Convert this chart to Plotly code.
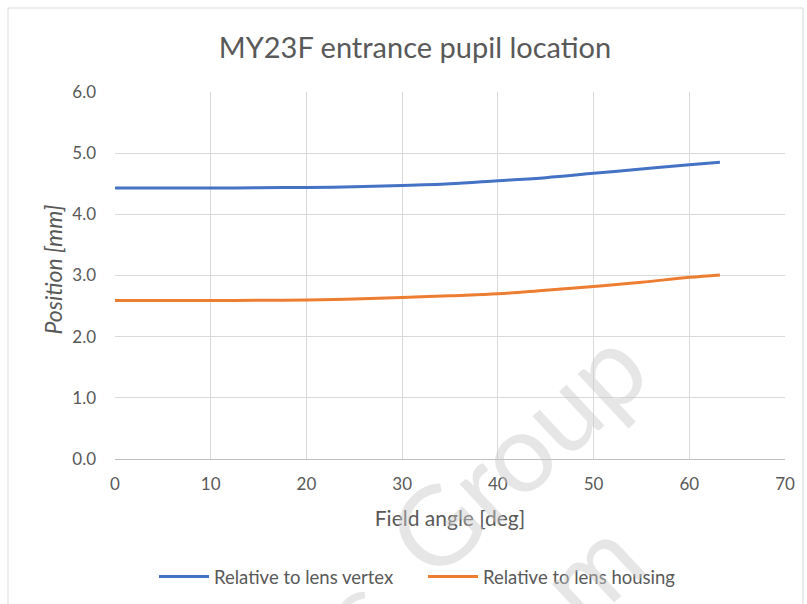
import plotly.graph_objects as go

# Data
field_angle = [0, 5, 10, 15, 20, 25, 30, 35, 40, 45, 50, 55, 60, 63.2]
vertex_pos = [4.43, 4.43, 4.43, 4.435, 4.44, 4.45, 4.47, 4.50, 4.55, 4.60, 4.67, 4.74, 4.81, 4.85]
housing_pos = [2.59, 2.59, 2.59, 2.595, 2.60, 2.615, 2.64, 2.67, 2.70, 2.76, 2.82, 2.89, 2.97, 3.01]
series_names = ["Relative to lens vertex", "Relative to lens housing"]
x_ticks = [0, 10, 20, 30, 40, 50, 60, 70]
y_ticks = [0, 1, 2, 3, 4, 5, 6]

FONT = "Lato"
TXT = "#595959"
GRID = "#d9d9d9"

W, H = 807, 604
L, R, T, B = 115, 22, 92, 145
PW, PH = W - L - R, H - T - B


def px_x(p):
    return (p - L) / PW


def px_y(p):
    return (H - B - p) / PH


fig = go.Figure()
fig.add_trace(go.Scatter(x=field_angle, y=vertex_pos, mode="lines", name=series_names[0],
                         line=dict(color="#4472c4", width=3, shape="spline")))
fig.add_trace(go.Scatter(x=field_angle, y=housing_pos, mode="lines", name=series_names[1],
                         line=dict(color="#ed7d31", width=3, shape="spline")))

fig.update_layout(
    width=W, height=H,
    paper_bgcolor="white", plot_bgcolor="white",
    margin=dict(l=L, r=R, t=T, b=B, autoexpand=False),
    title=dict(text="MY23F entrance pupil location", x=415 / W, xanchor="center",
               y=1 - 48 / H, yanchor="middle",
               font=dict(family=FONT, size=29, color=TXT)),
    font=dict(family=FONT, color=TXT, size=17),
    showlegend=True,
    legend=dict(orientation="h", x=px_x(423), xanchor="center",
                yref="container", y=1 - 577 / H, yanchor="middle",
                font=dict(family=FONT, size=18.5, color=TXT), itemwidth=50,
                entrywidth=204, entrywidthmode="pixels",
                traceorder="normal"),
    xaxis=dict(range=[0, 70], tickvals=x_ticks, showgrid=True, gridcolor=GRID, gridwidth=1,
               zeroline=False, showline=True, linecolor="#bfbfbf", linewidth=1,
               ticks="", tickfont=dict(family=FONT, size=17, color=TXT), ticklabelstandoff=10,
               automargin=False,
               title=dict(text="Field angle [deg]", font=dict(family=FONT, size=21, color=TXT),
                          standoff=17)),
    yaxis=dict(range=[0, 6], tickvals=y_ticks, tickformat=".1f", showgrid=True, gridcolor=GRID,
               gridwidth=1, zeroline=False, showline=False, ticks="", automargin=False,
               tickfont=dict(family=FONT, size=17, color=TXT), ticklabelstandoff=18),
)

# y-axis title
fig.add_annotation(text="<i>Position [mm]</i>", xref="paper", yref="paper",
                   x=px_x(52.5), y=px_y(269), xanchor="center", yanchor="middle",
                   showarrow=False, textangle=-90,
                   font=dict(family=FONT, size=23, color=TXT))

# chart border
fig.add_shape(type="rect", xref="paper", yref="paper",
              x0=px_x(8), x1=px_x(803), y0=px_y(612), y1=px_y(8),
              line=dict(color="#d9d9d9", width=1), fillcolor="rgba(0,0,0,0)", layer="below")

# faint watermark
WM = "rgba(200,200,200,0.45)"
for txt, cx, cy in [("Group", 515, 450), ("m", 588, 568), ("c", 352, 612)]:
    fig.add_annotation(text=txt, xref="paper", yref="paper", x=px_x(cx), y=px_y(cy),
                       xanchor="center", yanchor="middle", showarrow=False, textangle=-43,
                       font=dict(family=FONT, size=110, color=WM))

fig.write_html("out.html", config={"displayModeBar": False},
               post_script="document.body.style.margin='0';")
